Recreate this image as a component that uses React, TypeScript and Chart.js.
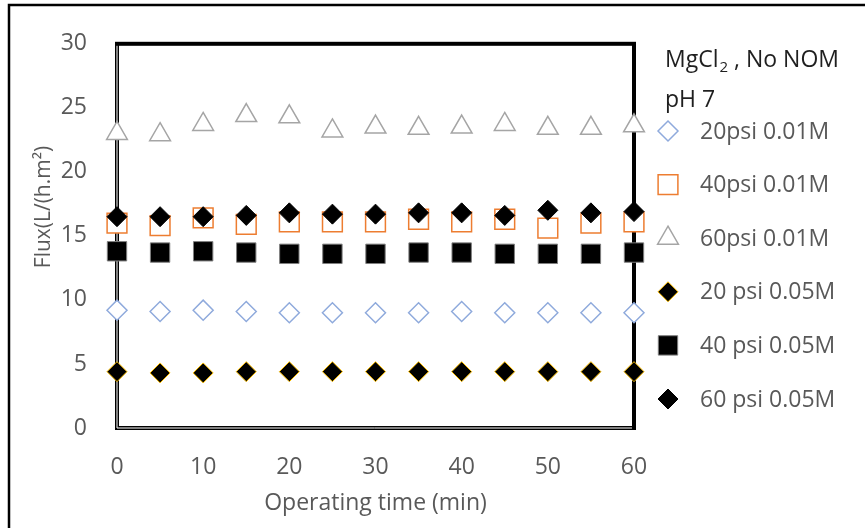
import React, { useEffect, useRef } from "react";
import { Chart, registerables } from "chart.js";
import { drawPoint } from "chart.js/helpers";

Chart.register(...registerables);

// ---- data ----
const times = [0, 5, 10, 15, 20, 25, 30, 35, 40, 45, 50, 55, 60];
const xTicks = [0, 10, 20, 30, 40, 50, 60];
const yTicks = [0, 5, 10, 15, 20, 25, 30];

const seriesNames = [
  "20psi 0.01M",
  "40psi 0.01M",
  "60psi 0.01M",
  "20 psi 0.05M",
  "40 psi 0.05M",
  "60 psi 0.05M",
];

const flux20psi001 = [9.2, 9.1, 9.2, 9.1, 9.0, 9.0, 9.0, 9.0, 9.1, 9.0, 9.0, 9.0, 9.0];
const flux40psi001 = [16.0, 15.8, 16.4, 15.9, 16.1, 16.1, 16.1, 16.3, 16.1, 16.3, 15.6, 16.0, 16.1];
const flux60psi001 = [23.0, 22.9, 23.7, 24.4, 24.3, 23.2, 23.5, 23.4, 23.5, 23.7, 23.4, 23.4, 23.6];
const flux20psi005 = [4.4, 4.3, 4.3, 4.4, 4.4, 4.4, 4.4, 4.4, 4.4, 4.4, 4.4, 4.4, 4.4];
const flux40psi005 = [13.8, 13.7, 13.8, 13.7, 13.6, 13.6, 13.6, 13.7, 13.7, 13.6, 13.6, 13.6, 13.7];
const flux60psi005 = [16.5, 16.5, 16.5, 16.6, 16.8, 16.7, 16.7, 16.8, 16.8, 16.6, 17.0, 16.8, 16.9];

const seriesValues = [flux20psi001, flux40psi001, flux60psi001, flux20psi005, flux40psi005, flux60psi005];

const titleLine1 = ["MgCl", "2", " , No NOM"];
const titleLine2 = "pH 7";
const xTitle = "Operating time (min)";
const yTitle = "Flux(L/(h.m²)";

const FONT = "'Open Sans', sans-serif";
const TEXT = "#595959";

const markerStyles = [
  { pointStyle: "rectRot", radius: 10, bg: "#ffffff", border: "#8FAADC", bw: 1.5 },
  { pointStyle: "rect", radius: 14, bg: "#ffffff", border: "#ED7D31", bw: 1.5 },
  { pointStyle: "triangle", radius: 12, bg: "#ffffff", border: "#A5A5A5", bw: 1.5 },
  { pointStyle: "rectRot", radius: 10, bg: "#000000", border: "#FFC000", bw: 1 },
  { pointStyle: "rect", radius: 13.7, bg: "#000000", border: "#7F7F7F", bw: 1 },
  { pointStyle: "rectRot", radius: 10, bg: "#000000", border: "#000000", bw: 1 },
];

export default function App() {
  const ref = useRef<HTMLCanvasElement>(null);

  useEffect(() => {
    if (!ref.current) return;

    const datasets = seriesValues.map((vals, i) => {
      const m = markerStyles[i];
      return {
        label: seriesNames[i],
        data: vals.map((v, j) => ({ x: times[j], y: v })),
        showLine: false,
        pointStyle: m.pointStyle,
        pointRadius: m.radius,
        pointHoverRadius: m.radius,
        pointBackgroundColor: m.bg,
        pointBorderColor: m.border,
        pointBorderWidth: m.bw,
        backgroundColor: m.bg,
        borderColor: m.border,
        clip: false as any,
        order: seriesValues.length - 1 - i,
      };
    });

    const framePlugin = {
      id: "framePlugin",
      beforeDatasetsDraw(chart: any) {
        const { ctx, chartArea: a } = chart;
        ctx.save();
        ctx.strokeStyle = "#000";
        ctx.lineWidth = 4;
        ctx.strokeRect(a.left, a.top, a.right - a.left, a.bottom - a.top);
        ctx.strokeStyle = "#fff";
        ctx.lineWidth = 1;
        ctx.beginPath();
        ctx.moveTo(a.left, a.top + 2);
        ctx.lineTo(a.left, a.bottom);
        ctx.lineTo(a.right - 2, a.bottom);
        ctx.stroke();
        ctx.restore();
      },
      afterDraw(chart: any) {
        const { ctx } = chart;
        ctx.save();
        // outer frame
        ctx.strokeStyle = "#000";
        ctx.lineWidth = 2.5;
        ctx.beginPath();
        ctx.moveTo(9, 528);
        ctx.lineTo(9, 5);
        ctx.lineTo(865, 5);
        ctx.stroke();

        // y title
        ctx.save();
        ctx.translate(44, 207);
        ctx.rotate(-Math.PI / 2);
        ctx.font = `21px ${FONT}`;
        ctx.fillStyle = TEXT;
        ctx.textAlign = "center";
        ctx.textBaseline = "middle";
        ctx.fillText(yTitle, 0, 0);
        ctx.restore();

        // legend title
        ctx.fillStyle = "#1f1f1f";
        ctx.textAlign = "left";
        ctx.textBaseline = "alphabetic";
        let x = 665;
        ctx.font = `23px ${FONT}`;
        ctx.fillText(titleLine1[0], x, 67);
        x += ctx.measureText(titleLine1[0]).width + 1;
        ctx.font = `15px ${FONT}`;
        ctx.fillText(titleLine1[1], x, 72);
        x += ctx.measureText(titleLine1[1]).width;
        ctx.font = `23px ${FONT}`;
        ctx.fillText(titleLine1[2], x, 67);
        ctx.fillText(titleLine2, 665, 107);

        // legend items
        const rowStart = 131;
        const rowStep = 53.6;
        seriesNames.forEach((name, i) => {
          const m = markerStyles[i];
          const y = rowStart + i * rowStep;
          ctx.fillStyle = m.bg;
          ctx.strokeStyle = m.border;
          ctx.lineWidth = m.bw;
          drawPoint(ctx, { pointStyle: m.pointStyle as any, radius: m.radius, rotation: 0, borderWidth: m.bw }, 668, y);
          ctx.fillStyle = TEXT;
          ctx.font = `23px ${FONT}`;
          ctx.textBaseline = "middle";
          ctx.fillText(name, 700, y + 1);
        });
        ctx.restore();
      },
    };

    const chart = new Chart(ref.current, {
      type: "scatter",
      data: { datasets: datasets as any },
      options: {
        responsive: false,
        animation: false,
        events: [],
        layout: { padding: { left: 0, top: 40, right: 231, bottom: 0 } },
        plugins: {
          legend: { display: false },
          tooltip: { enabled: false },
          title: { display: false },
        },
        scales: {
          x: {
            type: "linear",
            min: 0,
            max: 60,
            grid: { display: false, drawTicks: false },
            border: { display: false },
            afterBuildTicks: (s: any) => {
              s.ticks = xTicks.map((v) => ({ value: v }));
            },
            afterFit: (s: any) => {
              s.height = 100;
            },
            ticks: {
              color: TEXT,
              font: { family: FONT, size: 23 },
              padding: 26,
              maxRotation: 0,
            },
            title: {
              display: true,
              text: xTitle,
              color: TEXT,
              font: { family: FONT, size: 23 },
              padding: { top: 0, bottom: 11 },
            },
          },
          y: {
            type: "linear",
            min: 0,
            max: 30,
            grid: { display: false, drawTicks: false },
            border: { display: false },
            afterBuildTicks: (s: any) => {
              s.ticks = yTicks.map((v) => ({ value: v }));
            },
            afterFit: (s: any) => {
              s.width = 117;
            },
            ticks: {
              color: TEXT,
              font: { family: FONT, size: 23 },
              padding: 30,
            },
          },
        },
      },
      plugins: [framePlugin],
    });

    return () => chart.destroy();
  }, []);

  return (
    <div style={{ position: "fixed", left: 0, top: 0, width: 865, height: 528, background: "#fff" }}>
      <canvas ref={ref} width={865} height={528} style={{ display: "block" }} />
    </div>
  );
}
